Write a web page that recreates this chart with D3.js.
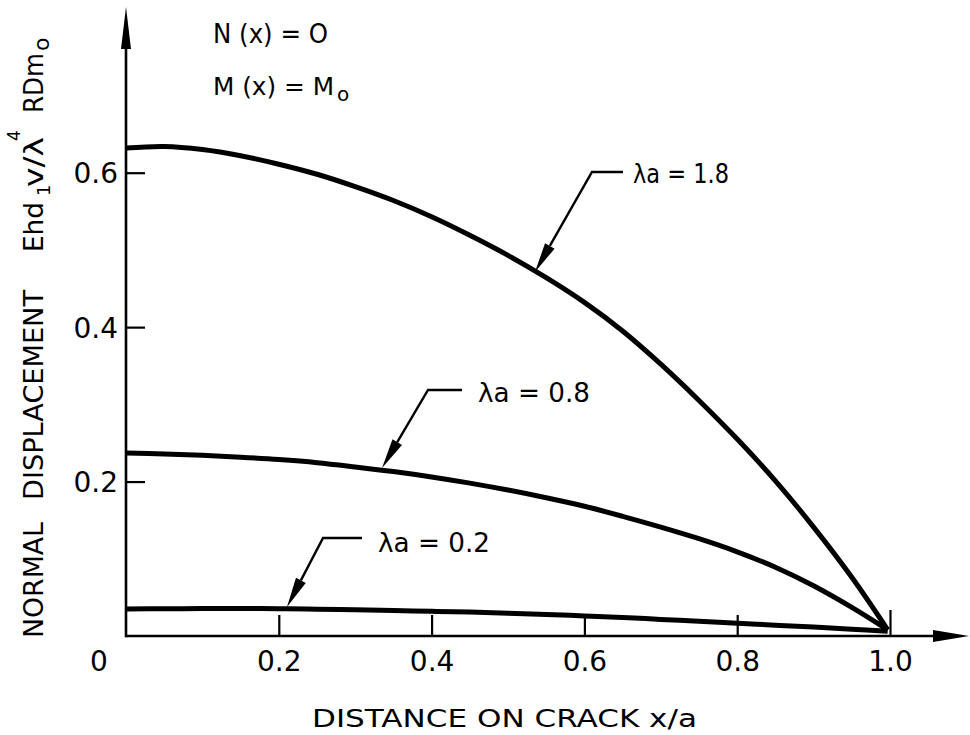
<!DOCTYPE html>
<html><head><meta charset="utf-8">
<script src="https://cdn.jsdelivr.net/npm/d3@7"></script>
<style>html,body{margin:0;padding:0;background:#fff;} svg{display:block;}</style>
</head><body>
<svg id="chart" width="970" height="735"></svg>
<script>
// ---- data ----
const xPos = [0, 0.05, 0.1, 0.15, 0.2, 0.25, 0.3, 0.35, 0.4, 0.45, 0.5, 0.55, 0.6, 0.65, 0.7, 0.75, 0.8, 0.85, 0.9, 0.95, 0.997];
const disp18 = [0.632, 0.634, 0.630, 0.622, 0.611, 0.598, 0.582, 0.564, 0.543, 0.519, 0.493, 0.464, 0.432, 0.395, 0.352, 0.305, 0.255, 0.201, 0.141, 0.076, 0.008];
const disp08 = [0.237, 0.2357, 0.234, 0.2315, 0.2285, 0.2245, 0.219, 0.213, 0.206, 0.198, 0.189, 0.179, 0.168, 0.155, 0.141, 0.126, 0.109, 0.089, 0.065, 0.037, 0.008];
const disp02 = [0.035, 0.0353, 0.0355, 0.0355, 0.0354, 0.0348, 0.034, 0.033, 0.032, 0.031, 0.0295, 0.028, 0.026, 0.024, 0.0215, 0.019, 0.0165, 0.014, 0.0115, 0.0088, 0.006];
const seriesLabels = ["λa = 1.8", "λa = 0.8", "λa = 0.2"];
const xTicks = [0.2, 0.4, 0.6, 0.8, 1.0];
const xTickLabels = ["0.2", "0.4", "0.6", "0.8", "1.0"];
const yTicks = [0.2, 0.4, 0.6];
const yTickLabels = ["0.2", "0.4", "0.6"];
const originLabel = "0";
const xTitle = "DISTANCE ON CRACK x/a";
const condition1 = "N (x) = O";
const condition2 = "M (x) = M";
// leader anchors in data space: tip on curve, elbow, end of horizontal, text position
const leaders = [
  {label: seriesLabels[0], tip: [0.5353, 0.4714], elbow: [0.6099, 0.6009], end: [0.6505, 0.6009], text: [0.6636, 0.5866], len: 96},
  {label: seriesLabels[1], tip: [0.3351, 0.2176], elbow: [0.3953, 0.3186], end: [0.4398, 0.3186], text: [0.4607, 0.3030], len: 112},
  {label: seriesLabels[2], tip: [0.2107, 0.0376], elbow: [0.2579, 0.1269], end: [0.3089, 0.1269], text: [0.3298, 0.1088], len: 112}
];

// ---- scales ----
const svg = d3.select("#chart");
const x = d3.scaleLinear().domain([0, 1]).range([126, 890]);
const y = d3.scaleLinear().domain([0, 0.6]).range([636, 172.7]);
const xArrowTip = 1.1034, yArrowTip = 0.8146;
const FONT = "'DejaVu Sans', sans-serif";

// ---- axes ----
const gx = svg.append("g").attr("transform", `translate(0,${y(0)})`)
  .call(d3.axisBottom(x).tickValues(xTicks).tickFormat((d,i)=>xTickLabels[i]).tickSizeInner(-21).tickSizeOuter(0).tickPadding(15));
gx.select(".domain").remove();
gx.selectAll(".tick line").attr("stroke","#000").attr("stroke-width",2.2);
gx.selectAll(".tick").filter(d=>d===1.0).select("line").attr("y2",-26);
gx.selectAll(".tick text").attr("font-family",FONT).attr("font-size",28).attr("fill","#000").attr("dy","0.72em");

const gy = svg.append("g").attr("transform", `translate(${x(0)},0)`)
  .call(d3.axisLeft(y).tickValues(yTicks).tickFormat((d,i)=>yTickLabels[i]).tickSizeInner(-19).tickSizeOuter(0).tickPadding(8));
gy.select(".domain").remove();
gy.selectAll(".tick line").attr("stroke","#000").attr("stroke-width",2.2);
gy.selectAll(".tick text").attr("font-family",FONT).attr("font-size",28).attr("fill","#000").attr("dy","0.36em");

// axis lines with arrows
svg.append("line").attr("x1",x(0)).attr("y1",y(0)).attr("x2",x(xArrowTip)-30).attr("y2",y(0)).attr("stroke","#000").attr("stroke-width",2.6);
svg.append("path").attr("d",`M${x(xArrowTip)},${y(0)} L${x(xArrowTip)-36},${y(0)-6} L${x(xArrowTip)-36},${y(0)+6} Z`).attr("fill","#000");
svg.append("line").attr("x1",x(0)).attr("y1",y(0)+1.3).attr("x2",x(0)).attr("y2",y(yArrowTip)+35).attr("stroke","#000").attr("stroke-width",2.6);
svg.append("path").attr("d",`M${x(0)},${y(yArrowTip)} L${x(0)-5},${y(yArrowTip)+42} L${x(0)+5},${y(yArrowTip)+42} Z`).attr("fill","#000");

// origin label
svg.append("text").attr("x",x(0)-27).attr("y",y(0)+15).attr("dy","0.72em").attr("text-anchor","middle")
  .attr("font-family",FONT).attr("font-size",28).text(originLabel);

// ---- curves ----
const line = d3.line().x((d,i)=>x(xPos[i])).y(d=>y(d)).curve(d3.curveCatmullRom.alpha(0.5));
[disp18, disp08, disp02].forEach(s=>{
  svg.append("path").attr("d",line(s)).attr("fill","none").attr("stroke","#000").attr("stroke-width",5).attr("stroke-linejoin","round");
});

// ---- leaders ----
leaders.forEach(L=>{
  const T=[x(L.tip[0]),y(L.tip[1])], E=[x(L.elbow[0]),y(L.elbow[1])], N=[x(L.end[0]),y(L.end[1])];
  const dx=T[0]-E[0], dy=T[1]-E[1], len=Math.hypot(dx,dy), ux=dx/len, uy=dy/len;
  const AL=30, hw=5.5;
  const B=[T[0]-ux*AL, T[1]-uy*AL];
  svg.append("path").attr("d",`M${N[0]},${N[1]} L${E[0]},${E[1]} L${B[0]},${B[1]}`).attr("fill","none").attr("stroke","#000").attr("stroke-width",2.4);
  svg.append("path").attr("d",`M${T[0]},${T[1]} L${B[0]-uy*hw},${B[1]+ux*hw} L${B[0]+uy*hw},${B[1]-ux*hw} Z`).attr("fill","#000");
  svg.append("text").attr("x",x(L.text[0])).attr("y",y(L.text[1])).attr("font-family",FONT).attr("font-size",27)
    .attr("textLength",L.len).attr("lengthAdjust","spacingAndGlyphs").text(L.label);
});

// ---- conditions ----
svg.append("text").attr("x",213).attr("y",43).attr("font-family",FONT).attr("font-size",27)
  .attr("textLength",115).attr("lengthAdjust","spacingAndGlyphs").text(condition1);
svg.append("text").attr("x",213).attr("y",95).attr("font-family",FONT).attr("font-size",25)
  .attr("textLength",121).attr("lengthAdjust","spacingAndGlyphs").text(condition2);
svg.append("text").attr("x",337).attr("y",101).attr("font-family",FONT).attr("font-size",20).text("o");

// ---- x title ----
svg.append("text").attr("x",312).attr("y",727).attr("font-family",FONT).attr("font-size",25)
  .attr("textLength",385).attr("lengthAdjust","spacingAndGlyphs").text(xTitle);

// ---- y title (rotated) ----
const yt = svg.append("g").attr("transform","translate(43,0) rotate(-90)")
  .attr("font-family",FONT).attr("fill","#000");
const yPieces = [
  {t:"NORMAL", s:638, len:116, fs:27, dy:0},
  {t:"DISPLACEMENT", s:500, len:210, fs:27, dy:0},
  {t:"Ehd", s:252, len:50, fs:27, dy:0},
  {t:"1", s:196, len:null, fs:18, dy:7},
  {t:"v/λ", s:187, len:50, fs:27, dy:0},
  {t:"4", s:141, len:null, fs:17, dy:-23},
  {t:"RDm", s:113, len:60, fs:27, dy:0},
  {t:"o", s:51, len:null, fs:22, dy:6}
];
yPieces.forEach(p=>{
  const t = yt.append("text").attr("x",-p.s).attr("y",p.dy).attr("font-size",p.fs).text(p.t);
  if(p.len) t.attr("textLength",p.len).attr("lengthAdjust","spacingAndGlyphs");
});
</script>
</body></html>
